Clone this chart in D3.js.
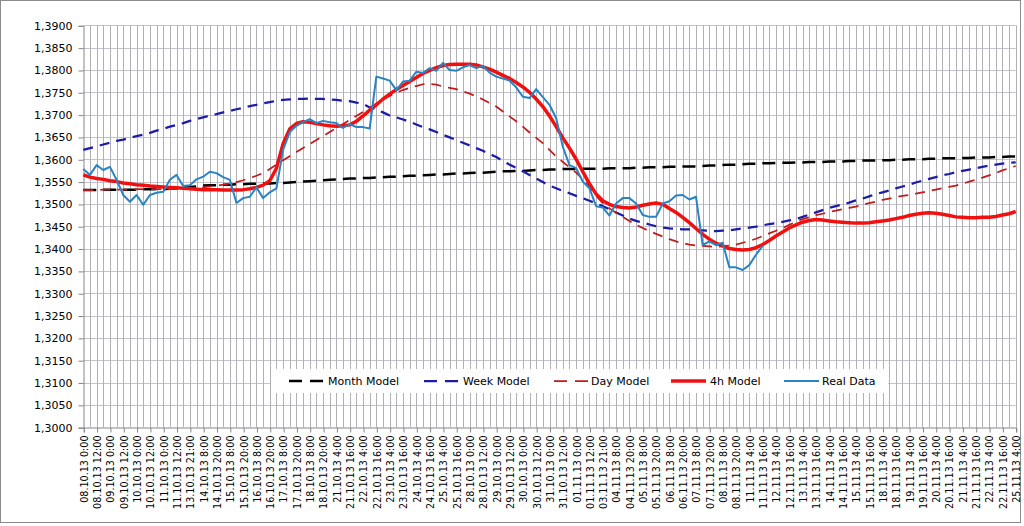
<!DOCTYPE html>
<html><head><meta charset="utf-8">
<script src="https://cdn.jsdelivr.net/npm/d3@7"></script>
<style>html,body{margin:0;padding:0;background:#fff}svg{display:block}</style>
</head><body>
<svg id="c" width="1024" height="526"></svg>
<script>
const tickLabels = ["08.10.13 0:00","08.10.13 12:00","09.10.13 0:00","09.10.13 12:00","10.10.13 0:00","10.10.13 12:00","11.10.13 0:00","11.10.13 12:00","13.10.13 21:00","14.10.13 8:00","14.10.13 20:00","15.10.13 8:00","15.10.13 20:00","16.10.13 8:00","16.10.13 20:00","17.10.13 8:00","17.10.13 20:00","18.10.13 8:00","18.10.13 20:00","21.10.13 4:00","21.10.13 16:00","22.10.13 4:00","22.10.13 16:00","23.10.13 4:00","23.10.13 16:00","24.10.13 4:00","24.10.13 16:00","25.10.13 4:00","25.10.13 16:00","28.10.13 0:00","28.10.13 12:00","29.10.13 0:00","29.10.13 12:00","30.10.13 0:00","30.10.13 12:00","31.10.13 0:00","31.10.13 12:00","01.11.13 0:00","01.11.13 12:00","03.11.13 21:00","04.11.13 8:00","04.11.13 20:00","05.11.13 8:00","05.11.13 20:00","06.11.13 8:00","06.11.13 20:00","07.11.13 8:00","07.11.13 20:00","08.11.13 8:00","08.11.13 20:00","11.11.13 4:00","11.11.13 16:00","12.11.13 4:00","12.11.13 16:00","13.11.13 4:00","13.11.13 16:00","14.11.13 4:00","14.11.13 16:00","15.11.13 4:00","15.11.13 16:00","18.11.13 4:00","18.11.13 16:00","19.11.13 4:00","19.11.13 16:00","20.11.13 4:00","20.11.13 16:00","21.11.13 4:00","21.11.13 16:00","22.11.13 4:00","22.11.13 16:00","25.11.13 4:00"];

const yTicks = [1.30,1.305,1.31,1.315,1.32,1.325,1.33,1.335,1.34,1.345,1.35,1.355,1.36,1.365,1.37,1.375,1.38,1.385,1.39];

const monthModel = [1.3531,1.3531,1.3531,1.3532,1.3532,1.3532,1.3532,1.3532,1.3532,1.3533,1.3533,1.3533,1.3533,
1.3534,1.3536,1.3537,1.3538,1.3539,1.3541,1.3542,
1.3542,1.3543,1.3543,1.3544,1.3544,1.3545,1.3545,1.3546,1.3546,1.3547,1.3547,
1.3548,1.3549,1.3550,1.3551,1.3552,1.3553,1.3554,
1.3555,1.3556,1.3557,1.3557,1.3558,1.3558,1.3559,1.3560,
1.3561,1.3561,1.3562,1.3563,1.3563,1.3564,1.3565,
1.3566,1.3566,1.3567,1.3568,1.3568,1.3569,1.3570,1.3570,1.3571,1.3572,
1.3573,1.3573,1.3574,1.3574,1.3575,1.3576,1.3576,1.3577,1.3577,1.3578,
1.3578,1.3578,1.3579,1.3579,1.3579,1.3579,1.3580,1.3580,1.3580,
1.3580,1.3581,1.3581,1.3582,1.3582,1.3582,1.3583,1.3583,1.3584,1.3584,1.3584,1.3585,
1.3586,1.3586,1.3587,1.3588,1.3588,1.3589,1.3590,1.3590,1.3591,
1.3591,1.3592,1.3592,1.3592,1.3593,1.3593,1.3594,1.3594,1.3594,1.3595,
1.3595,1.3595,1.3596,1.3596,1.3597,1.3597,1.3597,1.3598,1.3598,1.3599,
1.3599,1.3600,1.3600,1.3600,1.3601,1.3601,1.3602,1.3602,1.3602,1.3603,
1.3603,1.3604,1.3604,1.3604,1.3605,1.3605,1.3606,1.3606];

const weekModel = [1.3621,1.3625,1.3629,1.3633,1.3637,1.3641,1.3644,1.3648,1.3652,1.3655,1.3659,
1.3664,1.3668,1.3673,1.3677,1.3681,1.3686,1.369,1.3694,1.3698,1.3701,
1.3705,1.3708,1.3712,1.3715,1.3719,1.3722,1.3725,1.3728,1.3731,1.3733,
1.3734,1.3735,1.3735,1.3736,1.3735,1.3735,1.3734,1.3733,1.3731,1.373,
1.3727,1.3724,1.3716,1.3711,1.3705,1.3698,1.3694,1.3689,1.3684,1.3678,
1.3672,1.3667,1.3661,1.3655,1.3649,1.3643,1.3637,1.3631,1.3625,1.3619,
1.3612,1.3605,1.3596,1.3588,1.3581,1.3573,1.3565,1.3557,1.3549,1.3541,
1.3535,1.3529,1.3524,1.3518,1.3513,1.3507,1.3501,1.3495,1.3488,1.3481,
1.3474,1.3467,1.3462,1.3458,1.3454,1.345,1.3447,1.3445,1.3444,1.3443,
1.3443,1.3442,1.3441,1.344,1.3439,1.344,1.3441,1.3443,1.3445,1.3447,
1.3449,1.3452,1.3455,1.3457,1.346,1.3463,1.3466,1.3471,1.3476,1.3481,
1.3486,1.3491,1.3495,1.3499,1.3503,1.3508,1.3512,1.3517,1.3522,1.3526,
1.353,1.3535,1.3539,1.3543,1.3548,1.3552,1.3556,1.356,1.3564,1.3567,
1.3571,1.3574,1.3577,1.358,1.3583,1.3586,1.3588,1.359,1.3592,1.3593];

const dayModel = [1.3531,1.3531,1.3531,1.3532,1.3532,1.3532,1.3532,1.3532,1.3533,1.3533,1.3533,1.3533,1.3533,1.3533,1.3533,1.3533,1.3534,1.3535,
1.3537,1.3539,1.3541,1.3543,1.3546,1.3549,1.3553,
1.3558,1.3563,1.3569,1.3578,1.3588,1.3598,
1.3607,1.3616,1.3625,1.3634,1.3643,1.3652,1.3661,1.367,1.3679,1.3688,
1.3697,1.3706,1.3715,1.3725,1.3734,1.3742,1.3749,1.3755,1.376,1.3764,
1.3768,1.3769,1.3767,1.3763,1.376,1.3757,1.3752,1.3747,1.3741,1.3734,
1.3726,1.3718,1.3707,1.3696,1.3685,1.3673,1.366,1.3648,1.3636,1.3621,
1.3606,1.3594,1.3582,1.357,1.3555,1.3538,1.3518,1.3502,1.349,1.348,
1.3471,1.3462,1.3453,1.3446,1.3439,1.3433,1.3427,1.3421,1.3416,1.3412,
1.3409,1.3407,1.3406,1.3405,1.3404,1.3405,1.3407,1.3409,1.3413,1.3417,
1.3422,1.3428,1.3434,1.344,1.3446,1.3453,1.346,1.3466,1.347,1.3475,
1.3478,1.3482,1.3485,1.3488,1.3491,1.3494,1.3498,1.3502,1.3505,1.3509,
1.3512,1.3515,1.3518,1.352,1.3523,1.3526,1.3529,1.3532,1.3535,1.3538,
1.3541,1.3545,1.355,1.3554,1.3559,1.3564,1.3569,1.3575,1.358,1.3585];

const h4Model = [1.3565,1.356,1.3557,1.3555,1.3552,1.355,1.3547,1.3545,1.3543,1.3542,1.354,
1.3539,1.3538,1.3537,1.3536,1.3535,1.3534,1.3533,1.3532,1.3532,1.3532,
1.3531,1.3531,1.3531,1.3532,1.3534,1.3537,1.3542,1.3552,1.358,1.3635,
1.3668,1.368,1.3684,1.3683,1.368,1.3677,1.3675,1.3674,1.3675,1.3677,
1.3685,1.3697,1.371,1.3722,1.3735,1.3746,1.3756,1.3765,1.3774,1.3783,
1.3792,1.3799,1.3805,1.381,1.3812,1.3813,1.3813,1.3813,1.3811,1.3807,
1.3802,1.3795,1.3788,1.3781,1.3772,1.3762,1.375,1.3735,1.3718,1.3697,
1.3673,1.3648,1.3625,1.36,1.3572,1.3545,1.3522,1.3507,1.3499,1.3494,
1.3492,1.3491,1.3493,1.3497,1.35,1.3502,1.3499,1.349,1.3481,1.347,
1.3458,1.3445,1.3432,1.3421,1.3412,1.3406,1.34,1.3398,1.3397,1.3398,
1.3402,1.3409,1.3418,1.3428,1.3437,1.3446,1.3453,1.3459,1.3463,1.3465,
1.3464,1.3462,1.346,1.3459,1.3458,1.3457,1.3457,1.3458,1.346,1.3462,
1.3464,1.3467,1.347,1.3474,1.3477,1.3479,1.348,1.3479,1.3477,1.3474,
1.3471,1.347,1.3469,1.3469,1.347,1.347,1.3472,1.3475,1.3478,1.3483];

const realData = [1.3578,1.3565,1.3587,1.3576,1.3583,1.3554,1.352,1.3505,1.352,1.3498,
1.352,1.3525,1.3527,1.3554,1.3565,1.354,1.3542,1.3555,1.3561,1.3572,
1.3569,1.356,1.3554,1.3502,1.3513,1.3516,1.3537,1.3513,1.3526,1.3535,
1.3621,1.3661,1.3675,1.3683,1.369,1.3681,1.3686,1.3683,1.3681,1.367,
1.3679,1.3672,1.3672,1.3669,1.3785,1.3781,1.3776,1.3755,1.3774,1.3776,
1.3796,1.3793,1.3804,1.3798,1.3816,1.38,1.3798,1.3806,1.3811,1.3804,
1.3809,1.3794,1.3785,1.3781,1.3776,1.3761,1.374,1.3737,1.3757,1.3739,
1.3722,1.3692,1.3628,1.3587,1.358,1.355,1.3535,1.3495,1.3492,1.3474,
1.3501,1.3513,1.3513,1.3501,1.3475,1.3471,1.3471,1.3501,1.3506,1.3519,
1.352,1.351,1.3516,1.3408,1.3416,1.3408,1.3413,1.3358,1.3358,1.3352,
1.3363,1.3386,1.3406];

const seriesNames = ["Month Model","Week Model","Day Model","4h Model","Real Data"];

const N = 141;
[monthModel, weekModel, dayModel, h4Model].forEach((a,k)=>{ if(a.length!==N) throw new Error(seriesNames[k]+" length "+a.length); });

const svg = d3.select("#c");
const FONT = "DejaVu Sans, Verdana, sans-serif";
const pL = 83.3, pR = 1015.7, pT = 25.3, pB = 427.2;

const x = d3.scaleLinear().domain([0, N-1]).range([pL, pR]);
const y = d3.scaleLinear().domain([1.30, 1.39]).range([pB, pT]);

// chart border
svg.append("rect").attr("x",0.5).attr("y",0.5).attr("width",1020).attr("height",522)
  .attr("fill","#fff").attr("stroke","#8c8c8c").attr("stroke-width",1);

// horizontal gridlines
svg.append("g").selectAll("line").data(yTicks.slice(1)).join("line")
  .attr("x1",pL).attr("x2",pR)
  .attr("y1",d=>Math.round(y(d))+0.5).attr("y2",d=>Math.round(y(d))+0.5)
  .attr("stroke","#c3c3cb").attr("stroke-width",1);

// vertical gridlines
svg.append("g").selectAll("line").data(d3.range(1,N)).join("line")
  .attr("x1",d=>Math.round(x(d))+0.5).attr("x2",d=>Math.round(x(d))+0.5)
  .attr("y1",pT).attr("y2",pB)
  .attr("stroke","#b0b0b6").attr("stroke-width",1);

// y axis
const yAxis = d3.axisLeft(y).tickValues(yTicks).tickSize(5).tickPadding(6)
  .tickFormat(d=>d3.format(".4f")(d).replace(".",","));
const gy = svg.append("g").attr("transform",`translate(${Math.round(pL)+0.5},0.5)`).call(yAxis);
gy.select(".domain").attr("stroke","#868686");
gy.selectAll(".tick line").attr("stroke","#868686");
gy.selectAll("text").attr("font-family",FONT).attr("font-size",11).attr("fill","#000");

// x axis
const xTickIdx = d3.range(0, N, 2);
const xAxis = d3.axisBottom(x).tickValues(xTickIdx).tickSize(5).tickFormat(d=>tickLabels[d/2]);
const gx = svg.append("g").attr("transform",`translate(0.5,${Math.round(pB)+0.5})`).call(xAxis);
gx.select(".domain").attr("stroke","#868686");
gx.selectAll(".tick line").attr("stroke","#868686");
gx.selectAll(".tick text").attr("font-family",FONT).attr("font-size",9.6).attr("fill","#000")
  .attr("transform","rotate(-90)").attr("text-anchor","end").attr("dy","0.35em")
  .attr("x",-8).attr("y",0);

// series
const styles = [
  {data: monthModel, color:"#000000", width:2.5, dash:"13,7"},
  {data: weekModel, color:"#1c1ca8", width:2.25, dash:"10,7"},
  {data: dayModel, color:"#c01c1c", width:1.75, dash:"10,7"},
  {data: h4Model, color:"#f01010", width:3.5, dash:null},
  {data: realData, color:"#2a84c4", width:2, dash:null}
];
const line = d3.line().x((d,i)=>x(i)).y(d=>y(d));
styles.forEach(s=>{
  svg.append("path").datum(s.data).attr("d",line)
    .attr("fill","none").attr("stroke",s.color).attr("stroke-width",s.width)
    .attr("stroke-dasharray",s.dash).attr("stroke-linejoin","round");
});

// legend
const lg = svg.append("g");
lg.append("rect").attr("x",271).attr("y",369).attr("width",617).attr("height",24).attr("fill","#fff");
const legPos = [[289,328],[424,463],[554,591],[671,710],[784,822]];
styles.forEach((s,k)=>{
  const [lx,tx] = legPos[k];
  lg.append("line").attr("x1",lx).attr("x2",lx+35).attr("y1",381).attr("y2",381)
    .attr("stroke",s.color).attr("stroke-width",s.width).attr("stroke-dasharray",s.dash ? "13,8" : null);
  lg.append("text").attr("x",tx).attr("y",385).text(seriesNames[k])
    .attr("font-family",FONT).attr("font-size",11).attr("fill","#000");
});
</script>
</body></html>
